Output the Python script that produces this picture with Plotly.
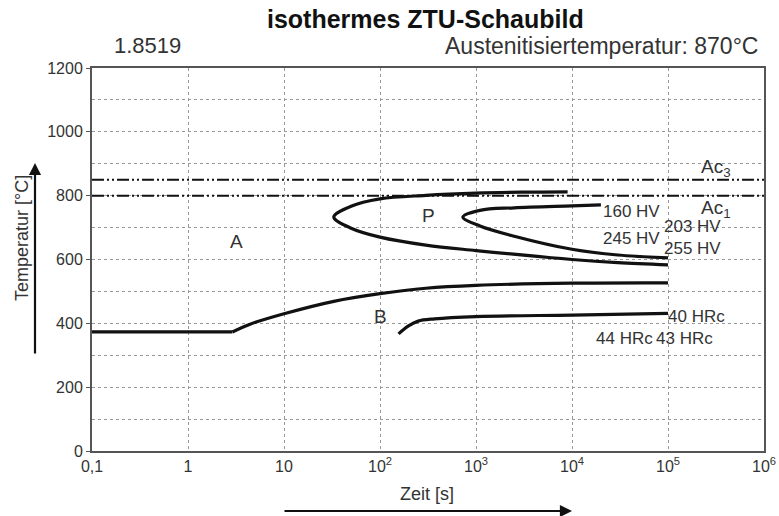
import math
import plotly.graph_objects as go

# ---------------- data ----------------
x_tickvals = [0.1, 1, 10, 100, 1000, 10000, 100000, 1000000]
x_ticktext = ["0,1", "1", "10", "10<sup>2</sup>", "10<sup>3</sup>", "10<sup>4</sup>", "10<sup>5</sup>", "10<sup>6</sup>"]
y_tickvals = [0, 200, 400, 600, 800, 1000, 1200]

ac_t = [0.1, 1000000]
ac3_T = 850
ac1_T = 800

# pearlite start (outer C-curve), from upper end round the nose to lower end
ps_t = [9000, 3000, 1000, 300, 100, 50, 33, 50, 100, 300, 1000, 10000, 30000, 100000]
ps_T = [812, 811, 808, 801, 790, 767, 733, 698, 670, 645, 628, 600, 590, 583]

# pearlite finish (inner C-curve)
pf_t = [20000, 10000, 2500, 1100, 730, 1100, 2500, 10000, 30000, 100000]
pf_T = [771, 768, 762, 754, 733, 705, 673, 632, 614, 605]

# bainite start
bs_t = [0.1, 2.9, 4.5, 10, 33, 100, 300, 1000, 10000, 100000]
bs_T = [373, 373, 398, 430, 469, 493, 510, 519, 526, 527]

# bainite finish
bf_t = [156, 198, 250, 370, 1000, 10000, 100000]
bf_T = [367, 392, 407, 414, 421, 426, 431]

# region / hardness labels
lab_text = ["A", "P", "B", "160 HV", "203 HV", "245 HV", "255 HV",
            "40 HRc", "44 HRc", "43 HRc", "Ac<sub>3</sub>", "Ac<sub>1</sub>"]
lab_t = [3.2, 320, 100, 42000, 180000, 42000, 180000, 200000, 35000, 150000, 320000, 320000]
lab_T = [655, 739, 420, 749, 702, 667, 633, 420, 354, 354, 888, 758]
lab_size = [19, 19, 19, 17, 17, 17, 17, 17, 17, 17, 19, 19]

# ---------------- figure ----------------
FONT = "Liberation Sans, Arial, sans-serif"
TXT = "#333333"
fig = go.Figure()

dash_dd = "12px,3px,2px,3px,2px,3px"
for T in (ac3_T, ac1_T):
    fig.add_trace(go.Scatter(x=ac_t, y=[T, T], mode="lines",
                             line=dict(color="#111111", width=2, dash=dash_dd),
                             hoverinfo="skip", showlegend=False))

curve_line = dict(color="#111111", width=3.2, shape="spline", smoothing=1.0)
fig.add_trace(go.Scatter(x=ps_t, y=ps_T, mode="lines", line=curve_line, showlegend=False))
fig.add_trace(go.Scatter(x=pf_t, y=pf_T, mode="lines", line=curve_line, showlegend=False))
fig.add_trace(go.Scatter(x=bs_t[:2], y=bs_T[:2], mode="lines",
                         line=dict(color="#111111", width=3.2), showlegend=False))
fig.add_trace(go.Scatter(x=bs_t[1:], y=bs_T[1:], mode="lines", line=curve_line, showlegend=False))
fig.add_trace(go.Scatter(x=bf_t, y=bf_T, mode="lines", line=curve_line, showlegend=False))

for txt, t, T, s in zip(lab_text, lab_t, lab_T, lab_size):
    fig.add_annotation(x=math.log10(t), y=T, xref="x", yref="y", text=txt, showarrow=False,
                       xanchor="center", yanchor="middle",
                       font=dict(family=FONT, size=s, color=TXT))

# pixel -> paper helpers for layout (plot area 92..764 x 68..451)
def px(xp):
    return (xp - 92) / 672

def py(yp):
    return (451 - yp) / 383

# titles and header texts
fig.add_annotation(x=px(425), y=py(19), xref="paper", yref="paper", xanchor="center",
                   yanchor="middle", text="<b>isothermes ZTU-Schaubild</b>", showarrow=False,
                   font=dict(family=FONT, size=25, color="#111111"))
fig.add_annotation(x=px(112), y=py(46), xref="paper", yref="paper", xanchor="left",
                   yanchor="middle", text="1.8519", showarrow=False,
                   font=dict(family=FONT, size=22, color=TXT))
fig.add_annotation(x=px(760), y=py(46), xref="paper", yref="paper", xanchor="right",
                   yanchor="middle", text="Austenitisiertemperatur: 870°C", showarrow=False,
                   font=dict(family=FONT, size=23, color=TXT))

# axis titles with arrows
fig.add_annotation(x=px(22), y=py(238), xref="paper", yref="paper", xanchor="center",
                   yanchor="middle", text="Temperatur [°C]", textangle=-90, showarrow=False,
                   font=dict(family=FONT, size=18, color=TXT))
fig.add_annotation(x=px(35), y=py(163), xref="paper", yref="paper",
                   ax=0, ay=192, axref="pixel", ayref="pixel", text="", showarrow=True,
                   arrowhead=2, arrowsize=1.1, arrowwidth=2.2, arrowcolor="#111111")
fig.add_annotation(x=px(427), y=py(494), xref="paper", yref="paper", xanchor="center",
                   yanchor="middle", text="Zeit [s]", showarrow=False,
                   font=dict(family=FONT, size=18, color=TXT))
fig.add_annotation(x=px(572), y=py(511), xref="paper", yref="paper",
                   ax=-289, ay=0, axref="pixel", ayref="pixel", text="", showarrow=True,
                   arrowhead=2, arrowsize=1.1, arrowwidth=2.2, arrowcolor="#111111")

fig.update_xaxes(type="log", range=[-1, 6], tickvals=x_tickvals, ticktext=x_ticktext,
                 showgrid=True, gridcolor="#999999", griddash="dot", gridwidth=1,
                 showline=True, linecolor="#555555", linewidth=2, mirror=True,
                 ticks="", tickfont=dict(family=FONT, size=16, color=TXT), zeroline=False,
                 automargin=False)
fig.update_yaxes(range=[0, 1200], tickvals=y_tickvals,
                 showgrid=True, gridcolor="#999999", griddash="dot", gridwidth=1,
                 minor=dict(dtick=100, tick0=0, showgrid=True, gridcolor="#999999",
                            griddash="dot", ticks=""),
                 showline=True, linecolor="#555555", linewidth=2, mirror=True,
                 ticks="outside", ticklen=4, tickcolor="#555555",
                 tickfont=dict(family=FONT, size=16, color=TXT), zeroline=False,
                 automargin=False)

fig.update_layout(width=779, height=516, autosize=False,
                  margin=dict(l=92, r=15, t=68, b=65),
                  paper_bgcolor="white", plot_bgcolor="white", showlegend=False)

fig.write_html("out.html", config={"displayModeBar": False},
               post_script="document.body.style.margin='0px';document.body.style.overflow='hidden';")
